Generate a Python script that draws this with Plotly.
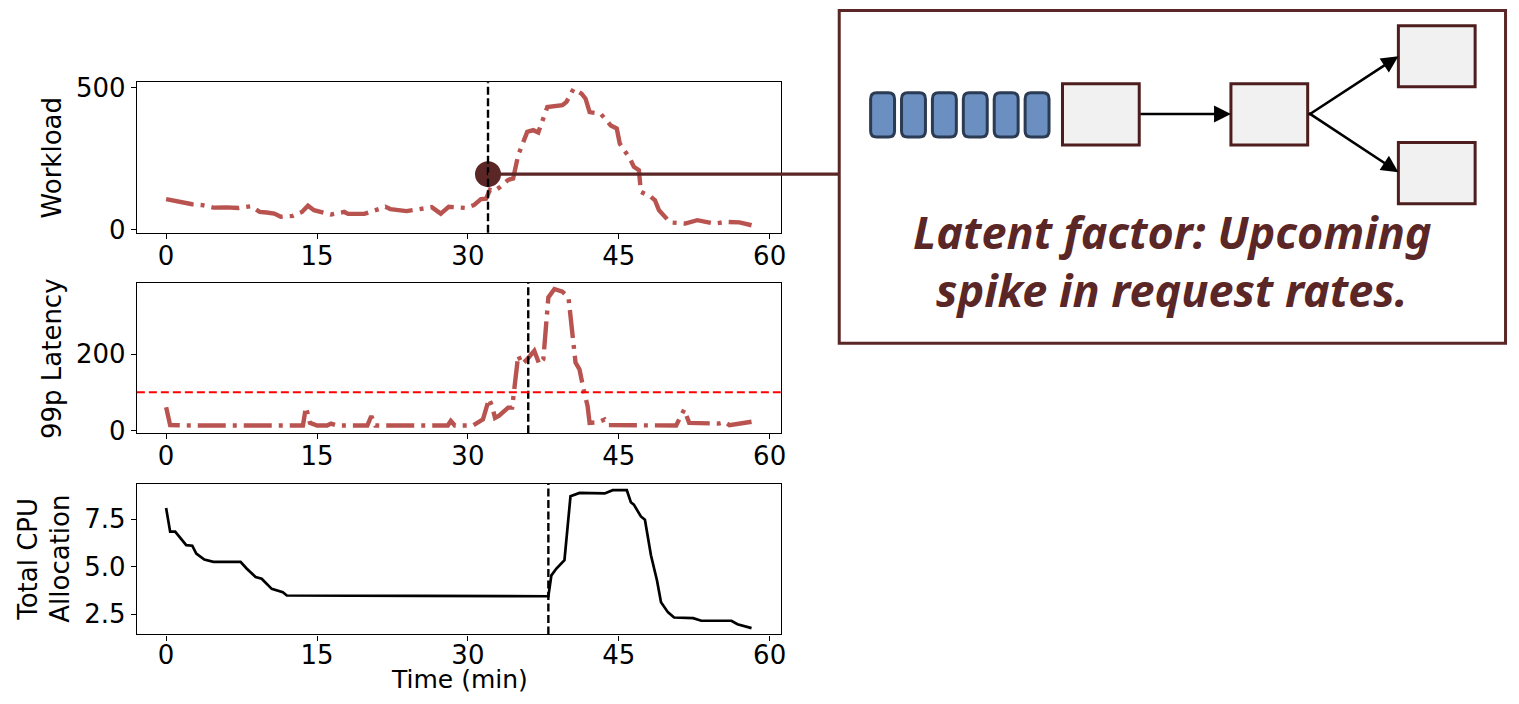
import plotly.graph_objects as go

W, H = 1519, 704

# ---------------- data ----------------
wl_t = [0, 1, 1.8, 2.6, 3.6, 4.7, 6, 7.2, 8.4, 9.3, 10.0, 10.75, 11.4, 12.6, 13.5, 14.1, 14.7,
        15.6, 16.4, 17.7, 18.1, 19.7, 20.8, 21.8, 22.3, 23.9, 25.6, 26.4, 27.3, 28.1, 29.8,
        30.6, 31.3, 31.8, 32.2, 32.6, 33.2, 34.0, 34.5, 35.0, 35.9, 36.5, 37.0, 37.9, 39.4,
        39.8, 40.5, 41.3, 41.7, 42.1, 43.2, 44.2, 44.8, 45.1, 46.1, 46.5, 47.0, 47.2, 48.2,
        48.6, 49.0, 49.7, 50.1, 51.6, 52.8, 54.5, 55.7, 57.0, 58.2]
wl_v = [107, 100, 95, 89, 86, 77, 78, 76, 82, 62, 60, 56, 45, 48, 62, 84, 68,
        62, 53, 62, 55, 55, 68, 80, 72, 65, 74, 79, 56, 80, 76,
        86, 107, 109, 140, 135, 150, 175, 180, 262, 344, 350, 342, 432, 438,
        450, 496, 479, 461, 414, 408, 367, 356, 303, 250, 221, 209, 133, 115,
        103, 68, 39, 25, 21, 33, 21, 27, 25, 15]

lat_t = [0, 0.4, 3, 13.6, 13.9, 14.3, 15, 16.0, 16.4, 17, 20.0, 20.4, 20.8, 28, 28.3, 28.7,
         30.5, 31.5, 32.1, 32.4, 32.7, 33.1, 34.0, 34.4, 35.0, 35.4, 35.9, 36.6, 37.1, 37.5,
         38.0, 38.6, 39.4, 40.0, 40.7, 41.1, 41.5, 41.9, 42.1, 43.0, 43.6, 44.0, 50.7, 51.5,
         52.0, 54.9, 55.5, 56, 58.2]
lat_v = [61, 14, 13, 13, 61, 20, 13, 13, 18, 13, 13, 38, 13, 13, 25, 13,
         13, 29, 83, 64, 33, 39, 60, 60, 197, 174, 187, 209, 174, 187,
         349, 371, 364, 349, 178, 160, 108, 64, 20, 22, 29, 14, 13, 55,
         20, 18, 22, 14, 23]

cpu_t = [0, 0.4, 0.9, 1.5, 2.0, 2.6, 3.0, 3.8, 4.7, 7.4, 8.0, 8.9, 9.5, 10.5, 11.6, 12.0,
         17.2, 25, 38.0, 38.3, 38.8, 39.4, 39.6, 40.2, 41.1, 43.6, 44.4, 45.8, 46.2, 46.5,
         47.2, 47.6, 48.2, 48.8, 49.2, 49.9, 50.5, 52.4, 53.2, 56.2, 56.8, 58.2]
cpu_v = [8.08, 6.84, 6.84, 6.45, 6.13, 6.1, 5.69, 5.37, 5.25, 5.25, 4.9, 4.45, 4.36, 3.83, 3.65, 3.48,
         3.48, 3.46, 3.44, 4.54, 4.9, 5.25, 5.34, 8.7, 8.88, 8.85, 9.02, 9.02, 8.39, 8.26,
         7.64, 7.47, 5.6, 4.27, 3.12, 2.59, 2.32, 2.29, 2.15, 2.15, 1.97, 1.76]

x_ticks = [0, 15, 30, 45, 60]
wl_ticks = [0, 500]
lat_ticks = [0, 200]
cpu_ticks = [2.5, 5.0, 7.5]

wl_vline = 32
lat_vline = 36
cpu_vline = 38
slo = 100
spike_t, spike_v = 32, 195

text_line1 = "Latent factor: Upcoming"
text_line2 = "spike in request rates."

# ---------------- helpers (layout pixels -> paper) ----------------
def px(x):
    return x / W

def py_raw(y):
    return 1 - y / H

def py(y, lo=1.6):
    # vertical layout position, adjusted for how the page is photographed
    return py_raw(max((y - 10.9) / 0.967, lo))

BROWN = "#5b2626"
RED_LINE = "#b9534f"
FONT = "DejaVu Sans"

x_range = [-2.91, 61.1]
x_dom = [px(137.3), px(783.3)]
y_doms = [[py(234), py(84)], [py(433.7), py(284)], [py(634.3), py(484.3)]]
y_ranges = [[-11.7, 518.7], [-7.1, 386.8], [1.43, 9.35]]

dashdot = "28px,7px,4px,7px"

fig = go.Figure()
fig.add_trace(go.Scatter(x=wl_t, y=wl_v, mode="lines", xaxis="x", yaxis="y",
                         line=dict(color=RED_LINE, width=4.4, dash=dashdot), showlegend=False))
fig.add_trace(go.Scatter(x=lat_t, y=lat_v, mode="lines", xaxis="x2", yaxis="y2",
                         line=dict(color=RED_LINE, width=4.4, dash=dashdot), showlegend=False))
fig.add_trace(go.Scatter(x=cpu_t, y=cpu_v, mode="lines", xaxis="x3", yaxis="y3",
                         line=dict(color="black", width=2.7), showlegend=False))

def xax(anchor, standoff=-5):
    return dict(range=x_range, domain=x_dom, anchor=anchor, tickvals=x_ticks,
                showline=True, mirror=True, linecolor="black", linewidth=1.2,
                ticks="outside", ticklen=5, tickwidth=1.2, tickcolor="black",
                ticklabelstandoff=standoff,
                showgrid=False, zeroline=False,
                tickfont=dict(family=FONT, size=26, color="black"))

def yax(anchor, dom, rng, ticks, fmt=None):
    d = dict(range=rng, domain=dom, anchor=anchor, tickvals=ticks,
             showline=True, mirror=True, linecolor="black", linewidth=1.2,
             ticks="outside", ticklen=5, tickwidth=1.2, tickcolor="black",
             showgrid=False, zeroline=False,
             tickfont=dict(family=FONT, size=26, color="black"))
    if fmt:
        d["tickformat"] = fmt
    return d

shapes = []
for xr, yr, xv in [("x", "y domain", wl_vline), ("x2", "y2 domain", lat_vline), ("x3", "y3 domain", cpu_vline)]:
    shapes.append(dict(type="line", xref=xr, yref=yr, x0=xv, x1=xv, y0=0, y1=1,
                       line=dict(color="black", width=2.4, dash="8px,3.5px"), layer="above"))
shapes.append(dict(type="line", xref="x2 domain", yref="y2", x0=0, x1=1, y0=slo, y1=slo,
                   line=dict(color="red", width=2.0, dash="8px,4px"), layer="above"))

# connector from the spike dot to the explanation box
dot_xp = x_dom[0] + (spike_t - x_range[0]) / (x_range[1] - x_range[0]) * (x_dom[1] - x_dom[0])
dot_yp = y_doms[0][0] + (spike_v - y_ranges[0][0]) / (y_ranges[0][1] - y_ranges[0][0]) * (y_doms[0][1] - y_doms[0][0])
box_l, box_r, box_t, box_b = 842, 1510.5, 8.5, 344
shapes.append(dict(type="line", xref="paper", yref="paper", x0=dot_xp, x1=px(box_l), y0=dot_yp, y1=dot_yp,
                   line=dict(color=BROWN, width=3.2), layer="above"))
shapes.append(dict(type="rect", xref="paper", yref="paper", x0=px(box_l), x1=px(box_r), y0=py(box_b), y1=py(box_t),
                   line=dict(color=BROWN, width=3), fillcolor="white", layer="above"))

def rrect(x0, y0, x1, y1, r):
    P = lambda x, y: f"{px(x):.6f},{py(y):.6f}"
    return (f"M {P(x0 + r, y0)} L {P(x1 - r, y0)} Q {P(x1, y0)} {P(x1, y0 + r)} "
            f"L {P(x1, y1 - r)} Q {P(x1, y1)} {P(x1 - r, y1)} L {P(x0 + r, y1)} "
            f"Q {P(x0, y1)} {P(x0, y1 - r)} L {P(x0, y0 + r)} Q {P(x0, y0)} {P(x0 + r, y0)} Z")

# queued requests
for i in range(6):
    x0 = 873.5 + 31 * i
    shapes.append(dict(type="path", xref="paper", yref="paper", path=rrect(x0, 94.5, x0 + 24, 138.5, 6),
                       line=dict(color="#2b3b54", width=3), fillcolor="#6a8fc0", layer="above"))

# services
for (x0, y0) in [(1066, 85.5), (1235, 85.5), (1403, 27.5), (1403, 144)]:
    shapes.append(dict(type="rect", xref="paper", yref="paper", x0=px(x0), x1=px(x0 + 77), y0=py(y0 + 61), y1=py(y0),
                       line=dict(color="#4e1e1e", width=3), fillcolor="#f1f1f1", layer="above"))

annotations = []
for (tx, ty, sx, sy) in [(1235, 115.5, 1143, 115.5), (1403, 58, 1312, 115.5), (1403, 173.5, 1312, 115.5)]:
    ty_l = (1 - py(ty)) * H
    sy_l = (1 - py(sy)) * H
    annotations.append(dict(x=px(tx), y=py(ty), xref="paper", yref="paper", text="", showarrow=True,
                            ax=sx - tx, ay=sy_l - ty_l, axref="pixel", ayref="pixel",
                            arrowhead=2, arrowsize=1.3, arrowwidth=2.6, arrowcolor="black",
                            standoff=0, startstandoff=0))

for txt, yc in [(text_line1, 233), (text_line2, 290)]:
    annotations.append(dict(x=px((box_l + box_r) / 2), y=py(yc), xref="paper", yref="paper", text=txt,
                            showarrow=False, xanchor="center", yanchor="middle",
                            font=dict(family="Noto Sans", size=45, color=BROWN, weight="bold", style="italic")))

for txt, xc, yc in [("Workload", 52, 159), ("99p Latency", 52, 359), ("Total CPU", 28, 559), ("Allocation", 60, 559)]:
    annotations.append(dict(x=px(xc), y=py(yc), xref="paper", yref="paper", text=txt, textangle=-90,
                            showarrow=False, xanchor="center", yanchor="middle",
                            font=dict(family=FONT, size=26, color="black")))
annotations.append(dict(x=px(461), y=py_raw(691.5), xref="paper", yref="paper", text="Time (min)",
                        showarrow=False, xanchor="center", yanchor="middle",
                        font=dict(family=FONT, size=25, color="black")))

# the highlighted spike point
fig.add_trace(go.Scatter(x=[spike_t], y=[spike_v], mode="markers", xaxis="x", yaxis="y",
                         marker=dict(color=BROWN, size=26, line=dict(width=0)), cliponaxis=False,
                         showlegend=False))

fig.update_layout(
    width=W, height=H, margin=dict(l=0, r=0, t=0, b=0),
    paper_bgcolor="white", plot_bgcolor="white",
    xaxis=xax("y"), xaxis2=xax("y2"), xaxis3=xax("y3", standoff=-8),
    yaxis=yax("x", y_doms[0], y_ranges[0], wl_ticks),
    yaxis2=yax("x2", y_doms[1], y_ranges[1], lat_ticks),
    yaxis3=yax("x3", y_doms[2], y_ranges[2], cpu_ticks, ".1f"),
    shapes=shapes, annotations=annotations,
)

fig.write_html("out.html")
